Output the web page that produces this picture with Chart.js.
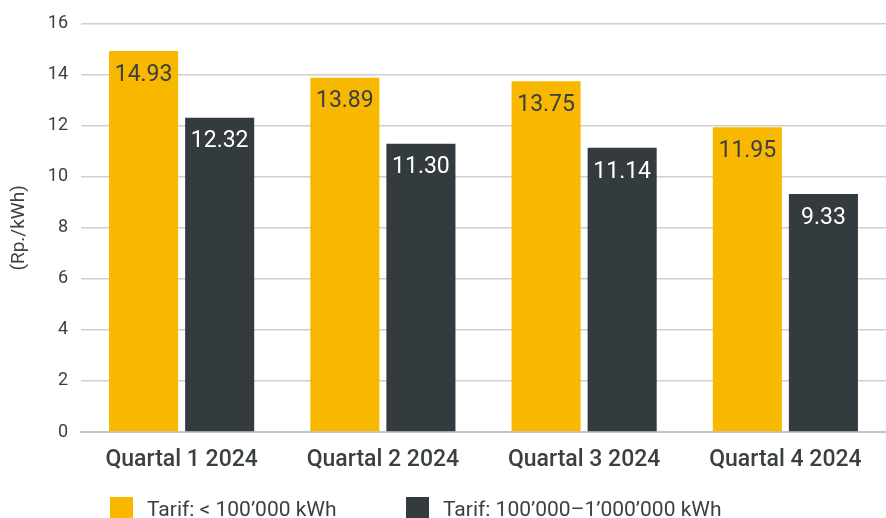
<!DOCTYPE html>
<html>
<head>
<meta charset="utf-8">
<script src="https://cdn.jsdelivr.net/npm/chart.js@4.4.1/dist/chart.umd.min.js"></script>
<style>
  html, body { margin: 0; padding: 0; background: #ffffff; }
  #wrap { width: 886px; height: 518px; }
</style>
</head>
<body>
<div id="wrap"><canvas id="c" width="886" height="518"></canvas></div>
<script>
const categories = ['Quartal 1 2024', 'Quartal 2 2024', 'Quartal 3 2024', 'Quartal 4 2024'];
const seriesNames = ['Tarif: < 100\u2019000 kWh', 'Tarif: 100\u2019000\u20131\u2019000\u2019000 kWh'];
const smallTariff = [14.93, 13.89, 13.75, 11.95];
const largeTariff = [12.32, 11.30, 11.14, 9.33];
const yTicks = [0, 2, 4, 6, 8, 10, 12, 14, 16];
const yTitle = '(Rp./kWh)';

const YELLOW = '#F8B800';
const DARK = '#343B3E';
const TEXT = '#3A3F42';
const FONT = 'Roboto, "DejaVu Sans", sans-serif';

const valueLabels = {
  id: 'valueLabels',
  afterDatasetsDraw(chart) {
    const ctx = chart.ctx;
    ctx.save();
    ctx.font = '23px ' + FONT;
    ctx.textAlign = 'center';
    ctx.textBaseline = 'middle';
    chart.data.datasets.forEach((ds, di) => {
      const meta = chart.getDatasetMeta(di);
      meta.data.forEach((el, i) => {
        ctx.fillStyle = di === 0 ? TEXT : '#ffffff';
        ctx.fillText(ds.data[i].toFixed(2), el.x, el.y + 24);
      });
    });
    ctx.restore();
  }
};

const customLegend = {
  id: 'customLegend',
  afterDraw(chart) {
    const ctx = chart.ctx;
    const left = chart.chartArea.left;
    const xs = [left + 29, left + 325];
    const y = 509;
    ctx.save();
    ctx.font = '21px ' + FONT;
    ctx.textAlign = 'left';
    ctx.textBaseline = 'middle';
    chart.data.datasets.forEach((ds, di) => {
      ctx.fillStyle = ds.backgroundColor;
      ctx.fillRect(xs[di], 497, 23, 23);
      ctx.fillStyle = TEXT;
      ctx.fillText(ds.label, xs[di] + 37, y + 2);
    });
    ctx.restore();
  }
};

new Chart(document.getElementById('c'), {
  type: 'bar',
  data: {
    labels: categories,
    datasets: [
      { label: seriesNames[0], data: smallTariff, backgroundColor: YELLOW, categoryPercentage: 0.756, barPercentage: 0.908 },
      { label: seriesNames[1], data: largeTariff, backgroundColor: DARK, categoryPercentage: 0.756, barPercentage: 0.908 }
    ]
  },
  options: {
    responsive: false,
    animation: false,
    layout: { padding: { top: 22, right: 0, bottom: 45, left: 0 } },
    plugins: {
      legend: { display: false },
      tooltip: { enabled: false }
    },
    scales: {
      x: {
        afterFit(scale) { scale.height = 41; },
        grid: { display: false, drawTicks: false },
        border: { display: true, color: '#c4c4c4', width: 2 },
        ticks: { color: TEXT, font: { family: FONT, size: 23, weight: '500' }, padding: 14, maxRotation: 0 }
      },
      y: {
        min: 0, max: 16,
        afterFit(scale) { scale.width = 81; },
        afterBuildTicks(scale) { scale.ticks = yTicks.map(v => ({ value: v })); },
        grid: { color: '#cfcfcf', lineWidth: 1.5, drawTicks: false },
        border: { display: false },
        ticks: { color: TEXT, font: { family: FONT, size: 18 }, padding: 13 },
        title: { display: true, text: yTitle, color: TEXT, font: { family: FONT, size: 19 }, padding: { top: 8, bottom: 0 } }
      }
    }
  },
  plugins: [valueLabels, customLegend]
});
</script>
</body>
</html>
